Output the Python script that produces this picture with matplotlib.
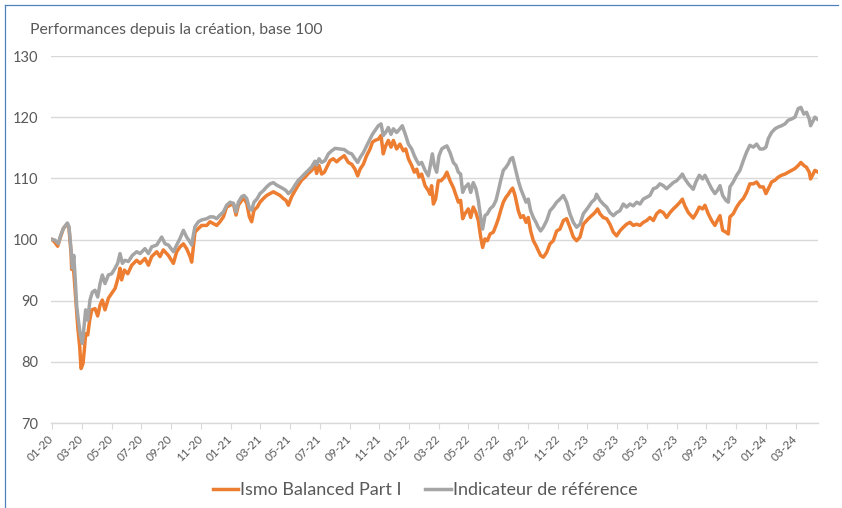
import matplotlib
matplotlib.use("Agg")
import matplotlib.pyplot as plt
from matplotlib.lines import Line2D

# ---- data (x = months since January 2020) ----
fund_months = [
    0.00, 0.20, 0.38, 0.54, 0.76, 1.03, 1.14, 1.28, 1.32, 1.43, 1.59, 1.73, 1.86, 1.95, 2.08, 2.17,
    2.26, 2.40, 2.53, 2.67, 2.89, 3.07, 3.23, 3.38, 3.56, 3.79, 4.01, 4.24, 4.46, 4.57, 4.68, 4.86,
    5.09, 5.36, 5.69, 5.92, 6.25, 6.48, 6.70, 7.04, 7.26, 7.48, 7.82, 8.16, 8.38, 8.61, 8.83, 9.05,
    9.28, 9.39, 9.50, 9.61, 9.84, 10.06, 10.40, 10.62, 10.85, 11.07, 11.29, 11.52, 11.74, 11.97, 12.19, 12.37,
    12.53, 12.75, 12.91, 13.09, 13.27, 13.42, 13.58, 13.80, 13.98, 14.21, 14.43, 14.66, 14.88, 15.10, 15.33, 15.55,
    15.73, 15.89, 16.11, 16.34, 16.56, 16.78, 17.01, 17.23, 17.46, 17.68, 17.79, 17.95, 18.13, 18.31, 18.47, 18.69,
    18.91, 19.14, 19.36, 19.65, 19.92, 20.15, 20.37, 20.55, 20.71, 20.93, 21.15, 21.38, 21.54, 21.71, 21.94, 22.12,
    22.27, 22.43, 22.61, 22.79, 22.95, 23.17, 23.39, 23.62, 23.78, 23.96, 24.18, 24.36, 24.52, 24.67, 24.85, 25.08,
    25.30, 25.41, 25.52, 25.64, 25.79, 25.97, 26.15, 26.38, 26.55, 26.76, 26.98, 27.16, 27.32, 27.47, 27.61, 27.76,
    27.99, 28.15, 28.32, 28.50, 28.66, 28.82, 28.95, 29.11, 29.27, 29.45, 29.67, 29.85, 30.01, 30.16, 30.34, 30.52,
    30.68, 30.83, 30.97, 31.13, 31.35, 31.51, 31.69, 31.87, 32.02, 32.18, 32.36, 32.54, 32.69, 32.85, 33.03, 33.26,
    33.48, 33.70, 33.93, 34.15, 34.38, 34.60, 34.82, 35.05, 35.27, 35.50, 35.72, 36.06, 36.28, 36.50, 36.68, 36.84,
    37.06, 37.29, 37.51, 37.74, 37.96, 38.18, 38.41, 38.63, 38.86, 39.08, 39.31, 39.53, 39.75, 39.98, 40.20, 40.43,
    40.65, 40.87, 41.10, 41.32, 41.55, 41.77, 41.99, 42.22, 42.38, 42.55, 42.78, 43.11, 43.29, 43.52, 43.74, 43.90,
    44.12, 44.35, 44.57, 44.73, 44.91, 45.09, 45.31, 45.47, 45.58, 45.80, 46.03, 46.25, 46.48, 46.70, 46.92, 47.15,
    47.37, 47.60, 47.82, 48.00, 48.16, 48.38, 48.61, 48.83, 49.05, 49.28, 49.50, 49.72, 49.95, 50.17, 50.35, 50.55,
    50.73, 50.91, 51.00, 51.13, 51.29, 51.44,
]
fund_values = [
    100.0, 99.5, 98.9, 100.2, 101.8, 102.6, 101.8, 97.7, 95.1, 95.8, 90.4, 85.7, 82.5, 78.9, 79.7, 81.9,
    84.6, 84.4, 86.8, 88.5, 88.7, 87.5, 89.3, 90.1, 88.5, 90.4, 91.2, 92.0, 93.9, 95.3, 93.4, 95.0,
    94.4, 95.8, 96.6, 96.1, 96.9, 95.8, 97.2, 98.0, 97.2, 98.3, 97.4, 96.1, 98.0, 98.8, 99.3, 98.5,
    97.2, 96.3, 98.8, 101.2, 101.8, 102.3, 102.3, 102.9, 102.6, 102.3, 102.9, 103.7, 105.3, 105.6, 105.9, 104.0,
    105.6, 106.4, 106.7, 105.9, 103.7, 102.9, 104.8, 105.3, 106.1, 106.7, 107.2, 107.5, 107.8, 107.5, 107.2, 106.7,
    106.4, 105.6, 107.0, 108.0, 108.9, 109.7, 110.2, 110.8, 111.3, 112.1, 110.8, 112.1, 110.7, 111.0, 111.8, 112.9,
    113.2, 112.7, 113.2, 113.7, 112.6, 112.3, 111.5, 110.4, 111.5, 112.3, 113.7, 114.8, 115.9, 116.2, 116.4, 117.0,
    114.0, 115.3, 116.2, 115.1, 116.2, 114.8, 115.6, 114.5, 114.8, 113.2, 112.1, 111.0, 111.5, 110.2, 110.7, 108.8,
    108.0, 107.4, 108.8, 105.8, 106.6, 109.6, 109.6, 110.2, 111.0, 109.6, 108.5, 107.2, 106.1, 106.4, 103.4, 104.2,
    105.0, 103.6, 105.3, 104.4, 103.1, 100.4, 98.7, 100.1, 99.8, 100.9, 101.2, 102.3, 103.4, 104.7, 106.1, 106.9,
    107.4, 108.0, 108.4, 107.2, 104.7, 103.6, 103.9, 102.8, 103.6, 101.4, 99.8, 99.0, 98.2, 97.4, 97.1, 97.9,
    99.3, 99.8, 101.4, 101.7, 103.1, 103.4, 102.0, 100.4, 99.8, 100.4, 102.5, 103.4, 103.9, 104.4, 105.0, 104.2,
    103.6, 103.4, 102.5, 101.2, 100.6, 101.4, 102.0, 102.5, 102.8, 102.3, 102.5, 102.3, 102.8, 103.1, 103.6, 103.1,
    104.2, 104.7, 104.4, 103.6, 104.4, 105.0, 105.5, 106.1, 106.6, 105.5, 104.4, 103.5, 104.2, 105.3, 105.0, 105.6,
    104.2, 103.1, 102.3, 103.1, 103.9, 101.5, 101.2, 100.9, 103.7, 104.2, 105.3, 106.1, 106.7, 107.7, 109.1, 109.1,
    109.4, 108.6, 108.6, 107.5, 108.3, 109.4, 109.7, 110.2, 110.5, 110.7, 111.0, 111.3, 111.6, 112.1, 112.6, 112.1,
    111.8, 111.0, 109.9, 110.5, 111.3, 111.1,
]

bench_months = [
    0.00, 0.20, 0.43, 0.54, 0.76, 1.03, 1.14, 1.28, 1.37, 1.46, 1.55, 1.66, 1.77, 1.90, 2.04, 2.17,
    2.26, 2.40, 2.55, 2.71, 2.89, 3.07, 3.23, 3.38, 3.56, 3.79, 4.01, 4.24, 4.41, 4.57, 4.73, 4.91,
    5.13, 5.40, 5.69, 5.92, 6.25, 6.48, 6.70, 7.04, 7.37, 7.60, 7.82, 8.16, 8.38, 8.61, 8.83, 9.05,
    9.28, 9.39, 9.50, 9.61, 9.84, 10.06, 10.40, 10.62, 10.85, 11.07, 11.29, 11.52, 11.74, 11.97, 12.19, 12.37,
    12.53, 12.75, 12.91, 13.09, 13.27, 13.42, 13.58, 13.80, 13.98, 14.21, 14.43, 14.66, 14.88, 15.10, 15.33, 15.55,
    15.73, 15.89, 16.11, 16.34, 16.56, 16.78, 17.01, 17.23, 17.46, 17.68, 17.79, 17.95, 18.13, 18.35, 18.58, 18.80,
    19.03, 19.36, 19.65, 19.92, 20.15, 20.37, 20.55, 20.71, 20.93, 21.15, 21.38, 21.54, 21.71, 21.94, 22.12, 22.27,
    22.43, 22.61, 22.79, 22.95, 23.17, 23.39, 23.55, 23.78, 23.96, 24.18, 24.36, 24.52, 24.67, 24.85, 25.08, 25.30,
    25.41, 25.57, 25.70, 25.86, 26.02, 26.20, 26.38, 26.55, 26.76, 26.98, 27.16, 27.32, 27.47, 27.61, 27.76, 27.99,
    28.15, 28.32, 28.50, 28.66, 28.82, 28.95, 29.11, 29.27, 29.45, 29.67, 29.85, 30.01, 30.16, 30.34, 30.52, 30.68,
    30.83, 30.97, 31.13, 31.35, 31.51, 31.69, 31.87, 32.02, 32.18, 32.36, 32.54, 32.69, 32.85, 33.03, 33.26, 33.48,
    33.70, 33.93, 34.15, 34.38, 34.60, 34.82, 35.05, 35.27, 35.50, 35.72, 36.06, 36.28, 36.50, 36.61, 36.84, 37.06,
    37.29, 37.51, 37.74, 37.96, 38.18, 38.41, 38.63, 38.86, 39.08, 39.31, 39.53, 39.75, 39.98, 40.20, 40.43, 40.65,
    40.87, 41.10, 41.32, 41.55, 41.77, 41.99, 42.22, 42.38, 42.55, 42.78, 43.11, 43.29, 43.52, 43.74, 43.90, 44.12,
    44.35, 44.57, 44.73, 44.91, 45.09, 45.31, 45.47, 45.58, 45.80, 46.03, 46.25, 46.48, 46.70, 46.92, 47.15, 47.37,
    47.60, 47.82, 48.00, 48.16, 48.38, 48.61, 48.83, 49.05, 49.28, 49.50, 49.72, 49.95, 50.17, 50.35, 50.55, 50.73,
    50.91, 51.00, 51.13, 51.29, 51.44,
]
bench_values = [
    100.0, 99.9, 99.3, 100.4, 101.8, 102.7, 102.1, 98.3, 95.3, 97.4, 93.9, 89.0, 86.8, 84.4, 83.0, 86.3,
    88.5, 86.8, 90.1, 91.4, 91.7, 90.6, 92.8, 94.2, 92.8, 94.2, 94.4, 95.3, 96.1, 97.7, 96.1, 96.6,
    96.4, 97.4, 98.0, 97.7, 98.5, 97.7, 98.8, 99.1, 100.4, 99.3, 99.1, 98.0, 99.1, 100.2, 101.5, 100.4,
    99.6, 99.1, 100.7, 102.1, 102.9, 103.2, 103.4, 103.7, 103.7, 103.4, 104.0, 104.5, 105.6, 106.1, 105.9, 104.5,
    106.1, 107.0, 107.2, 106.7, 105.1, 104.8, 106.1, 106.7, 107.5, 108.0, 108.6, 109.1, 109.3, 108.9, 108.6, 108.3,
    108.0, 107.5, 108.0, 108.9, 109.7, 110.2, 110.8, 111.3, 111.9, 112.8, 112.2, 113.2, 112.6, 112.9, 114.0, 114.5,
    114.9, 114.8, 114.7, 114.2, 114.0, 113.2, 112.6, 113.4, 114.2, 115.3, 116.4, 117.2, 117.8, 118.6, 118.9, 117.0,
    117.5, 118.3, 117.2, 118.1, 117.5, 118.1, 118.6, 117.0, 115.6, 114.8, 113.7, 112.9, 112.3, 112.6, 111.3, 110.4,
    111.8, 114.0, 112.1, 111.0, 113.7, 114.8, 115.1, 115.3, 114.2, 112.6, 112.1, 111.0, 110.7, 107.7, 108.5, 109.1,
    107.7, 109.3, 108.3, 106.4, 103.6, 101.7, 103.9, 104.2, 105.0, 105.5, 106.4, 108.0, 109.6, 111.3, 111.8, 112.4,
    113.2, 113.4, 111.8, 109.6, 108.3, 107.2, 106.1, 106.6, 104.7, 103.6, 102.8, 102.0, 101.4, 102.0, 103.1, 104.7,
    105.3, 106.1, 106.6, 107.2, 106.1, 104.2, 102.8, 102.0, 102.5, 104.2, 105.3, 106.1, 106.6, 107.4, 106.4, 105.8,
    105.3, 104.4, 103.9, 104.4, 104.7, 105.8, 105.3, 105.8, 105.5, 106.1, 105.8, 106.6, 106.9, 107.2, 108.3, 108.5,
    109.1, 108.8, 108.3, 108.8, 109.3, 109.6, 110.2, 110.7, 109.9, 109.1, 108.2, 109.4, 110.5, 109.9, 110.5, 109.4,
    108.3, 107.5, 108.0, 108.8, 107.2, 106.4, 106.1, 108.6, 109.4, 110.5, 111.3, 112.9, 114.3, 115.4, 115.1, 115.6,
    114.8, 114.8, 115.1, 116.5, 117.5, 118.1, 118.4, 118.6, 118.9, 119.5, 119.7, 120.0, 121.4, 121.6, 120.5, 120.8,
    119.7, 118.6, 119.2, 120.0, 119.7,
]

tick_months = list(range(0, 52, 2))
tick_labels = ["01-20", "03-20", "05-20", "07-20", "09-20", "11-20",
               "01-21", "03-21", "05-21", "07-21", "09-21", "11-21",
               "01-22", "03-22", "05-22", "07-22", "09-22", "11-22",
               "01-23", "03-23", "05-23", "07-23", "09-23", "11-23",
               "01-24", "03-24"]
y_ticks = [70, 80, 90, 100, 110, 120, 130]

series_names = ["Ismo Balanced Part I", "Indicateur de référence"]

# ---- style ----
plt.rcParams["font.family"] = ["Lato", "DejaVu Sans"]
text_color = "#595959"
grid_color = "#D9D9D9"
orange = "#ED7D31"
gray = "#A5A5A5"

fig = plt.figure(figsize=(8.42, 5.08), dpi=100)
ax = fig.add_axes([51 / 842, 1 - 423 / 508, (818 - 51) / 842, (423 - 56) / 508])

ax.plot(fund_months, fund_values, color=orange, lw=2.5, label=series_names[0],
        solid_joinstyle="round", zorder=3)
ax.plot(bench_months, bench_values, color=gray, lw=2.5, label=series_names[1],
        solid_joinstyle="round", zorder=4)

ax.set_xlim(-0.07, 51.5)
ax.set_ylim(70, 130)
ax.set_yticks(y_ticks)
ax.set_yticklabels([str(v) for v in y_ticks])
ax.set_xticks(tick_months)
ax.set_xticklabels(tick_labels, rotation=45, ha="right", va="center",
                   rotation_mode="anchor")

ax.grid(axis="y", color=grid_color, lw=1.0)
ax.set_axisbelow(True)
for side in ["top", "right", "left"]:
    ax.spines[side].set_visible(False)
ax.spines["bottom"].set_color(grid_color)
ax.spines["bottom"].set_linewidth(1.0)

ax.tick_params(axis="y", length=0, pad=9, labelsize=10.5, labelcolor=text_color)
ax.tick_params(axis="x", length=4, width=0.8, color=grid_color, pad=6,
               labelsize=8.5, labelcolor=text_color)

fig.text(30 / 842, 1 - 30 / 508, "Performances depuis la création, base 100",
         fontsize=11.3, color=text_color, ha="left", va="center")

leg = fig.legend(loc="center", bbox_to_anchor=(0.505, 1 - 490 / 508), ncol=2,
                 frameon=False, fontsize=13, handlelength=1.4, handletextpad=0.12,
                 columnspacing=1.3)
for t in leg.get_texts():
    t.set_color(text_color)
for h in leg.get_lines():
    h.set_linewidth(2.5)

# outer frame lines (top and left)
frame_color = "#4F81BD"
fig.add_artist(Line2D([5 / 842, 838 / 842], [1 - 5 / 508, 1 - 5 / 508],
                      transform=fig.transFigure, color=frame_color, lw=0.9))
fig.add_artist(Line2D([5 / 842, 5 / 842], [1 - 5 / 508, 0],
                      transform=fig.transFigure, color=frame_color, lw=0.9))

fig.savefig("out.png", dpi=100, facecolor="white")
